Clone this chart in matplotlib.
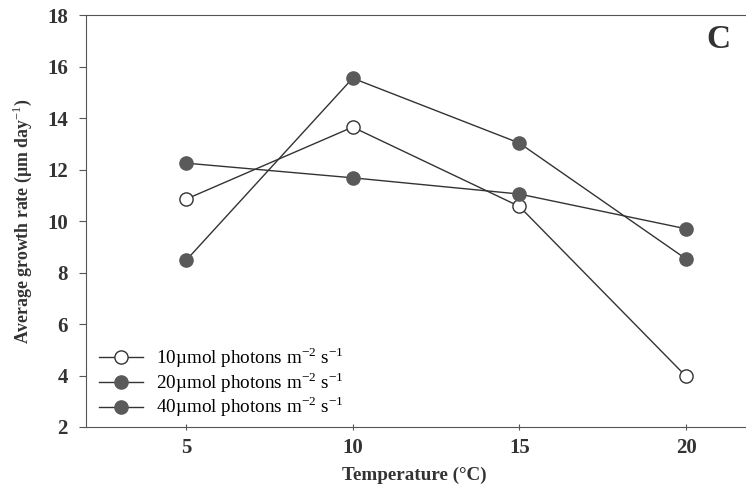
import matplotlib
matplotlib.use("Agg")
import matplotlib.pyplot as plt

plt.rcParams['font.family'] = ['Liberation Serif', 'DejaVu Serif']
plt.rcParams['mathtext.fontset'] = 'custom'
plt.rcParams['mathtext.rm'] = 'Liberation Serif'

temperature = [5, 10, 15, 20]
rate_10 = [10.85, 13.65, 10.57, 3.97]
rate_20 = [8.47, 15.55, 13.03, 8.53]
rate_40 = [12.25, 11.68, 11.05, 9.7]

labels = ['10µmol photons m$^{-2}$ s$^{-1}$',
          '20µmol photons m$^{-2}$ s$^{-1}$',
          '40µmol photons m$^{-2}$ s$^{-1}$']

ink = '#333333'
fill = '#5a5a5a'

fig = plt.figure(figsize=(7.46, 4.88), dpi=100)
ax = fig.add_axes([0.1153, 0.125, 0.8847, 0.844])

ax.plot(temperature, rate_10, '-o', color=ink, lw=1.0, ms=9.5,
        mfc='white', mec=ink, mew=1.0, label=labels[0])
ax.plot(temperature, rate_20, '-o', color=ink, lw=1.0, ms=9.5,
        mfc=fill, mec=fill, mew=1.0, label=labels[1])
ax.plot(temperature, rate_40, '-o', color=ink, lw=1.0, ms=9.5,
        mfc=fill, mec=fill, mew=1.0, label=labels[2])

ax.set_xlim(2, 21.8)
ax.set_ylim(2, 18)
ax.set_xticks(temperature)
ax.set_yticks(range(2, 19, 2))
ax.spines['right'].set_visible(False)
for s in ['left', 'top', 'bottom']:
    ax.spines[s].set_color('#555555')
    ax.spines[s].set_linewidth(0.8)
ax.tick_params(axis='both', colors='#555555', labelcolor=ink, labelsize=15, width=0.8)
ax.tick_params(axis='y', length=5, pad=8)
ax.tick_params(axis='x', direction='inout', length=4, pad=6)
for lab in ax.get_xticklabels() + ax.get_yticklabels():
    lab.set_fontweight('bold')

ax.set_xlabel('Temperature (°C)', fontsize=13.8, fontweight='bold', color=ink)
ax.set_ylabel(r'Average growth rate (µm day$^{-1}$)', fontsize=12.8,
              fontweight='bold', color=ink)
ax.xaxis.set_label_coords(0.498, -0.097)
ax.yaxis.set_label_coords(-0.079, 0.5)

ax.text(0.976, 0.942, 'C', transform=ax.transAxes, fontsize=24, fontweight='bold',
        color=ink, ha='right', va='center')

ax.legend(loc='lower left', frameon=False, fontsize=13.8, handlelength=2.3,
          labelspacing=0.0, borderaxespad=0.0, handletextpad=0.7,
          bbox_to_anchor=(0.008, 0.0))

fig.savefig('out.png', dpi=100)
